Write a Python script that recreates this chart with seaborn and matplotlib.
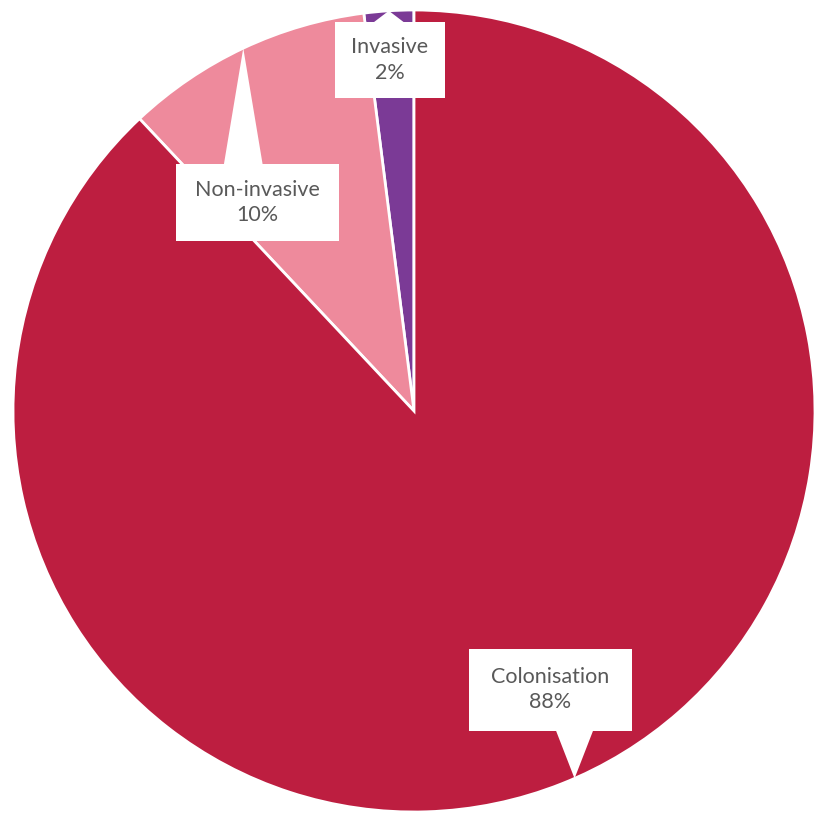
import numpy as np
import matplotlib
matplotlib.use("Agg")
import matplotlib.pyplot as plt
from matplotlib.patches import Polygon
import seaborn as sns

sns.set_theme(style="white")
plt.rcParams["font.family"] = ["Lato", "DejaVu Sans"]

# slice data, counter-clockwise from 12 o'clock
categories = ["Invasive", "Non-invasive", "Colonisation"]
shares = [2, 10, 88]
colors = ["#7B3A96", "#EE8A9C", "#BD1E40"]

# label boxes (centre in axes data units, width, height)
boxes = {
    "Invasive": dict(xy=(-0.06, 0.875), w=0.275, h=0.19),
    "Non-invasive": dict(xy=(-0.39, 0.52), w=0.405, h=0.19),
    "Colonisation": dict(xy=(0.34, -0.695), w=0.405, h=0.205),
}

fig = plt.figure(figsize=(8.14, 8.15), dpi=100)
ax = fig.add_axes([0, 0, 1, 1])
R = 1.0
wedges, _ = ax.pie(shares, colors=colors, startangle=90, counterclock=True,
                   radius=R, wedgeprops=dict(edgecolor="white", linewidth=2))

ax.set_aspect("auto")
ax.set_xlim(-414 / 401, 400 / 401)
ax.set_ylim(-404 / 401, 411 / 401)
ax.axis("off")

total = sum(shares)
cum = 0
for cat, val in zip(categories, shares):
    # small nudge so the colonisation pointer lands where the reference has it
    mid = np.deg2rad(90 + 360 * (cum + val / 2) / total + (2 if cat == "Colonisation" else 0))
    cum += val
    b = boxes[cat]
    cx, cy = b["xy"]
    w, h = b["w"], b["h"]
    tip = (R * 1.0 * np.cos(mid), R * 1.0 * np.sin(mid))
    # pointer leaves the box edge closest to the tip
    if tip[1] > cy:
        edge_y = cy + h / 2 - 0.01
    else:
        edge_y = cy - h / 2 + 0.01
    bx = np.clip(tip[0], cx - w / 2 + 0.07, cx + w / 2 - 0.07)
    ax.add_patch(Polygon([(bx - 0.05, edge_y), (bx + 0.05, edge_y), tip],
                         closed=True, facecolor="white", edgecolor="none", zorder=3))
    ax.add_patch(plt.Rectangle((cx - w / 2, cy - h / 2), w, h,
                               facecolor="white", edgecolor="none", zorder=3))
    pct = f"{val}%"
    ax.text(cx, cy, f"{cat}\n{pct}", ha="center", va="center", fontsize=15.5,
            color="#595959", linespacing=1.35, zorder=4)

fig.savefig("out.png", dpi=100)
